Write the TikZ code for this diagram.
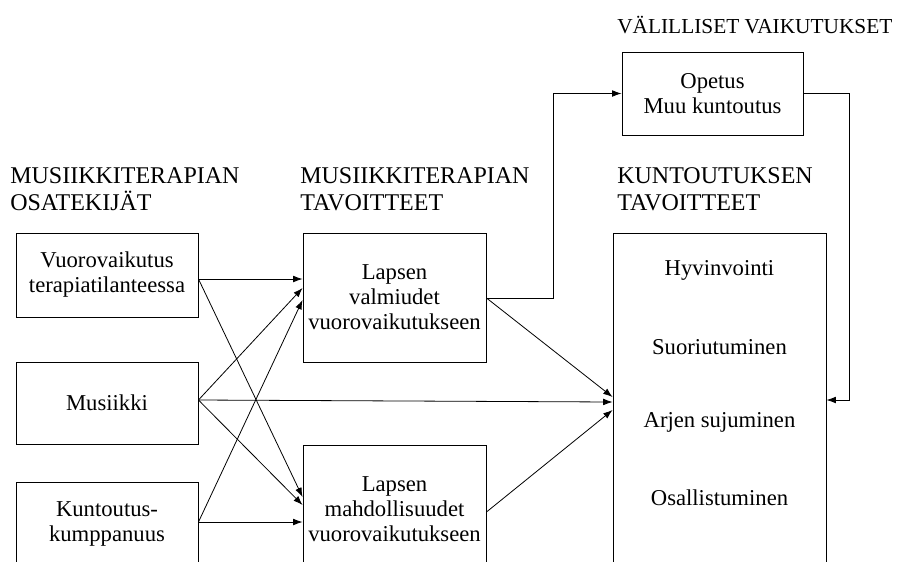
\documentclass[tikz,border=0pt]{standalone}
\usepackage{fontspec}
\setmainfont{Liberation Serif}
\usetikzlibrary{arrows.meta,calc}

\tikzset{
  box/.style={draw, line width=0.7pt, inner sep=0pt, align=center,
    font=\fontsize{17}{18.75}\selectfont},
  label/.style={inner sep=0pt, align=left, anchor=north west,
    font=\fontsize{18}{20.25}\selectfont},
  goal/.style={inner sep=0pt, font=\fontsize{17}{18.75}\selectfont},
  link/.style={line width=0.6pt, -{Latex[length=7pt,width=5pt]}},
}

\begin{document}
\begin{tikzpicture}[x=0.75pt, y=-0.75pt]
  \useasboundingbox (0,0) rectangle (899,561);

  % column headings
  \node[label] (hA) at (10,167) {MUSIIKKITERAPIAN\\OSATEKIJÄT};
  \node[label] (hB) at (300,167) {MUSIIKKITERAPIAN\\TAVOITTEET};
  \node[label] (hC) at (617,167) {KUNTOUTUKSEN\\TAVOITTEET};
  \node[inner sep=0pt, anchor=base west, font=\fontsize{16}{18}\selectfont]
    (hD) at (617,33) {VÄLILLISET VAIKUTUKSET};

  % components of music therapy
  \node[box, minimum width=136.5pt, minimum height=63pt] (b1) at (107,275)
    {Vuorovaikutus\\terapiatilanteessa};
  \node[box, minimum width=136.5pt, minimum height=61.5pt] (b2) at (107,403)
    {Musiikki};
  \node[box, minimum width=136.5pt, minimum height=63pt] (b3) at (107,524)
    {Kuntoutus-\\kumppanuus};

  % goals of music therapy
  \node[box, minimum width=137.25pt, minimum height=96.75pt] (v) at (394.5,297.5)
    {Lapsen\\valmiudet\\vuorovaikutukseen};
  \node[box, minimum width=137.25pt, minimum height=96.75pt] (m) at (394.5,509.5)
    {Lapsen\\mahdollisuudet\\vuorovaikutukseen};

  % goals of rehabilitation
  \node[box, minimum width=159.75pt, minimum height=264pt] (k) at (719.5,409) {};
  \node[goal] (k1) at (719.5,270) {Hyvinvointi};
  \node[goal] (k2) at (719.5,347) {Suoriutuminen};
  \node[goal] (k3) at (719.5,422) {Arjen sujuminen};
  \node[goal] (k4) at (719.5,498) {Osallistuminen};

  % indirect effects
  \node[box, minimum width=135.75pt, minimum height=62.25pt] (o) at (712.5,93.5)
    {Opetus\\Muu kuntoutus};

  % connectors
  \draw[link] ($(b1.east)+(0,4)$) -- ($(v.west)+(0,-18.5)$);
  \draw[link] ($(b1.east)+(0,4)$) -- ($(m.west)+(0,-12.5)$);
  \draw[link] ($(b2.east)+(0,-3)$) -- ($(v.west)+(0,-9.5)$);
  \draw[link] ($(b2.east)+(0,-3)$) -- ($(k.west)+(0,-7)$);
  \draw[link] ($(b2.east)+(0,-3)$) -- ($(m.west)+(0,-4.5)$);
  \draw[link] ($(b3.east)+(0,-2)$) -- ($(v.west)+(0,2.5)$);
  \draw[link] ($(b3.east)+(0,-2)$) -- ($(m.west)+(0,12.5)$);
  \draw[link] ($(v.east)+(0,0.5)$) -- ($(k.west)+(0,-12)$);
  \draw[link] ($(m.east)+(0,2.5)$) -- ($(k.west)+(0,1)$);
  \draw[link] ($(v.east)+(0,0.5)$) -- ++(67,0) |- (o.west);
  \draw[link] (o.east) -- ++(46,0) |- ($(k.east)+(0,-9)$);
\end{tikzpicture}
\end{document}
